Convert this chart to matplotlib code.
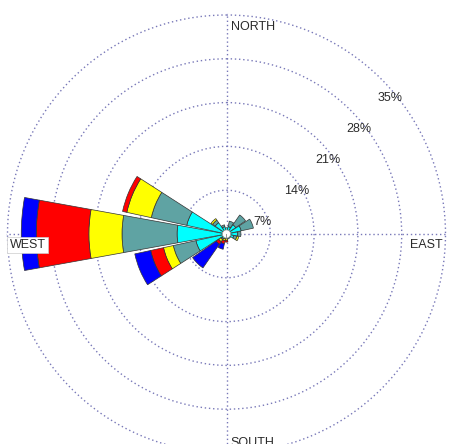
import numpy as np
import matplotlib
matplotlib.use('Agg')
import matplotlib.pyplot as plt

# wind directions (16 sectors, clockwise from north)
directions = ['N', 'NNE', 'NE', 'ENE', 'E', 'ESE', 'SE', 'SSE',
              'S', 'SSW', 'SW', 'WSW', 'W', 'WNW', 'NW', 'NNW']
bearings = [0, 22.5, 45, 67.5, 90, 112.5, 135, 157.5,
            180, 202.5, 225, 247.5, 270, 292.5, 315, 337.5]

# frequency (%) per speed class, lowest class first
freq_cyan   = [1.0, 1.2, 1.8, 2.4, 1.8, 1.2, 0.8, 0.8, 0.7, 0.8, 0.9, 5.0, 7.9, 6.5, 2.2, 1.2]
freq_teal   = [0.0, 0.9, 1.9, 2.0, 0.5, 0.5, 0.0, 0.0, 0.0, 0.0, 0.2, 3.7, 8.8, 5.8, 0.5, 0.3]
freq_yellow = [0.0, 0.0, 0.0, 0.0, 0.0, 0.3, 0.0, 0.0, 0.3, 0.3, 0.4, 1.6, 5.3, 4.0, 0.3, 0.0]
freq_red    = [0.0, 0.0, 0.0, 0.0, 0.0, 0.0, 0.0, 0.0, 0.3, 0.5, 0.5, 2.1, 8.4, 0.7, 0.0, 0.0]
freq_blue   = [0.0, 0.0, 0.0, 0.0, 0.0, 0.0, 0.0, 0.0, 0.0, 0.9, 4.6, 2.6, 2.4, 0.0, 0.0, 0.0]

ring_values = [7, 14, 21, 28, 35]
ring_labels = ['7%', '14%', '21%', '28%', '35%']

classes = [freq_cyan, freq_teal, freq_yellow, freq_red, freq_blue]
colors = ['#00ffff', '#5fa3a3', '#ffff00', '#ff0000', '#0000ff']

plt.rcParams['font.family'] = ['Liberation Sans', 'DejaVu Sans']

fig = plt.figure(figsize=(4.5, 4.44), dpi=100)
fig.patch.set_facecolor('white')

# polar axes, centre at (226.5, 234) px from top-left, 35% ring radius 219 px
rmax = 35.25
R = 219 * rmax / 35
ax = fig.add_axes([(226.5 - R) / 450, (210 - R) / 444, 2 * R / 450, 2 * R / 444],
                  projection='polar')
ax.set_theta_zero_location('N')
ax.set_theta_direction(-1)
ax.set_rlim(0, rmax)
ax.set_axisbelow(True)
ax.spines['polar'].set_visible(False)

grid_kw = dict(color='#7878b8', linestyle=(0, (1, 2)), linewidth=1.0)
ax.set_rgrids(ring_values, labels=[''] * len(ring_values))
ax.set_thetagrids([0, 90, 180, 270], labels=[''] * 4)
ax.yaxis.grid(True, **grid_kw)
ax.xaxis.grid(True, **grid_kw)
ax.tick_params(length=0)

theta = np.deg2rad(bearings)
width = np.deg2rad(20.5)
bottom = np.zeros(len(directions))
for vals, col in zip(classes, colors):
    vals = np.array(vals)
    mask = vals > 0
    ax.bar(theta[mask], vals[mask], width=width, bottom=bottom[mask],
           color=col, edgecolor='#333333', linewidth=0.5, zorder=3)
    bottom = bottom + vals

# white hub in the middle
ax.bar([0], [0.65], width=2 * np.pi, bottom=0, color='white',
       edgecolor='#999999', linewidth=0.5, zorder=4)

# ring labels along the 45 degree line
for r, lab in zip(ring_values, ring_labels):
    ax.annotate(lab, xy=(np.deg2rad(45), r), xytext=(-4, -19),
                textcoords='offset pixels', ha='left', va='center',
                fontsize=9, color='#2a2a2a', zorder=6, annotation_clip=False)

txt = dict(fontsize=9, color='#2a2a2a', zorder=6, annotation_clip=False,
           textcoords='offset pixels')
ax.annotate('NORTH', xy=(0, 35), xytext=(4, -12), ha='left', va='center', **txt)
ax.annotate('EAST', xy=(np.pi / 2, 35), xytext=(-3, -11), ha='right', va='center', **txt)
ax.annotate('SOUTH', xy=(np.pi, 35), xytext=(4, 10.5), ha='left', va='center', **txt)
ax.annotate('WEST', xy=(3 * np.pi / 2, 35), xytext=(2, -11), ha='left', va='center',
            bbox=dict(facecolor='white', edgecolor='#cccccc', linewidth=0.5, pad=1.5),
            **txt)

fig.savefig('out.png', dpi=100, facecolor='white')
